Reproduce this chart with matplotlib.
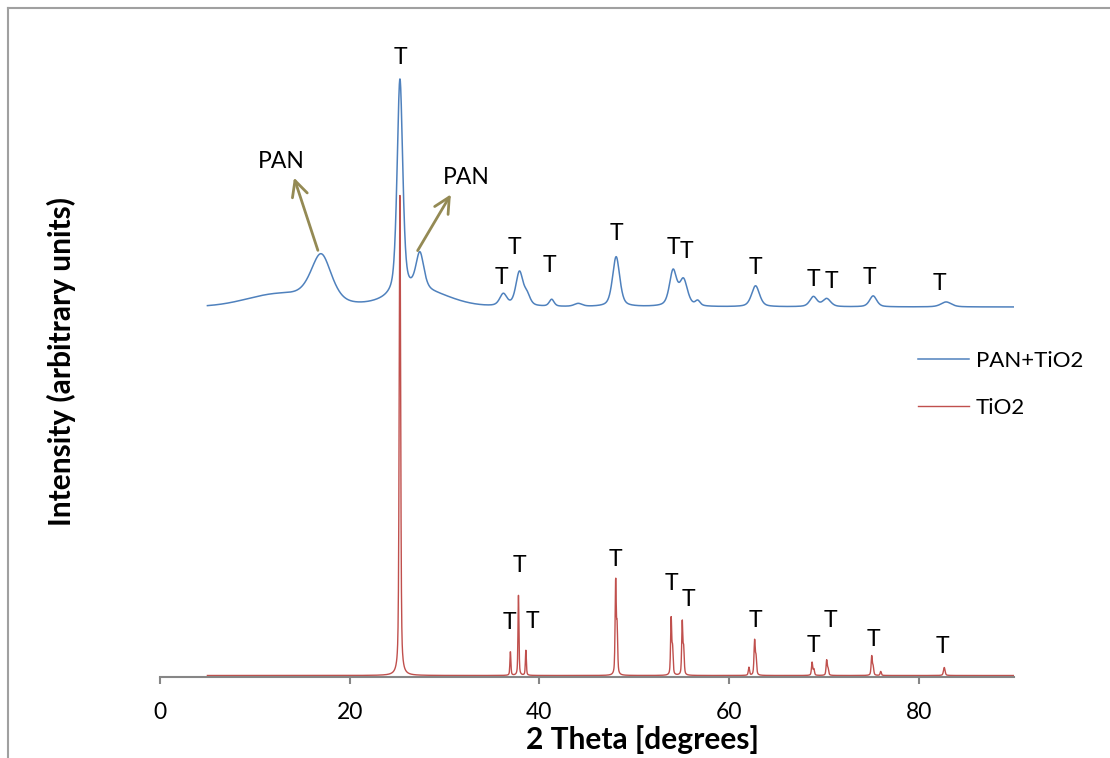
import numpy as np
import matplotlib
matplotlib.use('Agg')
import matplotlib.pyplot as plt
from matplotlib.lines import Line2D

plt.rcParams['font.family'] = ['Lato', 'DejaVu Sans']

# 2 theta range of both scans
theta_start = 5.0
theta_end = 90.0
theta_step = 0.02

# PAN+TiO2 (blue): flat level, broad amorphous humps, then peaks (center, height, fwhm)
pan_level = 3700
pan_hump_pos = [12.5, 27.5]
pan_hump_height = [120, 150]
pan_hump_fwhm = [8.0, 7.0]
pan_peak_pos = [17.0, 25.3, 27.4, 36.2, 37.9, 38.7, 41.3, 44.1, 48.1, 54.1, 55.2,
                56.7, 62.8, 68.9, 70.3, 75.2, 82.9]
pan_peak_height = [480, 2150, 370, 120, 340, 100, 70, 30, 500, 350, 260,
                   50, 210, 100, 80, 110, 50]
pan_peak_fwhm = [2.6, 0.7, 1.0, 0.9, 0.9, 0.8, 0.6, 1.0, 0.9, 0.9, 1.0,
                 0.6, 1.0, 0.9, 1.0, 0.9, 1.3]

# TiO2 (red): sharp anatase reflections incl. the K-alpha2 shoulders
tio2_level = 15
tio2_peak_pos = [25.3, 36.95, 37.8, 38.58, 48.05, 48.2, 53.9, 54.05, 55.07, 55.22,
                 62.1, 62.7, 62.85, 68.76, 68.95, 70.3, 70.45, 75.05, 75.2, 76.0, 82.7]
tio2_peak_height = [4800, 240, 800, 250, 930, 450, 560, 250, 530, 250,
                    80, 340, 170, 130, 60, 150, 60, 190, 80, 40, 80]
tio2_peak_fwhm = [0.18, 0.12, 0.12, 0.12, 0.14, 0.14, 0.14, 0.14, 0.14, 0.14,
                  0.15, 0.15, 0.15, 0.15, 0.15, 0.15, 0.15, 0.15, 0.15, 0.15, 0.2]

# "T" labels (theta, intensity)
pan_t_x = [25.4, 36.0, 37.4, 41.1, 48.1, 54.1, 55.5, 62.75, 68.9, 70.8, 74.8, 82.2]
pan_t_y = [6190, 4000, 4290, 4110, 4440, 4290, 4250, 4090, 3970, 3960, 4000, 3930]
tio2_t_x = [36.8, 37.9, 39.3, 48.0, 53.9, 55.7, 62.75, 68.9, 70.7, 75.2, 82.5]
tio2_t_y = [543, 1113, 550, 1170, 930, 770, 563, 313, 563, 380, 303]

# PAN arrows: (start on curve, text position)
pan_arrow_start = [(16.74, 4240), (27.02, 4240)]
pan_arrow_end = [(14.04, 5020), (30.82, 4850)]
pan_text_pos = [(12.8, 5160), (32.3, 4990)]

BLUE = '#4F81BD'
RED = '#C0504D'
OLIVE = '#948A54'
GREY = '#868686'


def gauss(x, c, h, w):
    return h * np.exp(-4 * np.log(2) * ((x - c) / w) ** 2)


def pvoigt(x, c, h, w, eta=0.5):
    lor = 1.0 / (1.0 + ((x - c) / (w / 2)) ** 2)
    return h * (eta * lor + (1 - eta) * np.exp(-4 * np.log(2) * ((x - c) / w) ** 2))


theta = np.arange(theta_start, theta_end + theta_step / 2, theta_step)

pan = np.full_like(theta, pan_level, dtype=float)
for c, h, w in zip(pan_hump_pos, pan_hump_height, pan_hump_fwhm):
    pan += gauss(theta, c, h, w)
for c, h, w in zip(pan_peak_pos, pan_peak_height, pan_peak_fwhm):
    pan += pvoigt(theta, c, h, w)

tio2 = np.full_like(theta, tio2_level, dtype=float)
for c, h, w in zip(tio2_peak_pos, tio2_peak_height, tio2_peak_fwhm):
    tio2 += pvoigt(theta, c, h, w)

fig = plt.figure(figsize=(11.1, 7.58), dpi=100)
ax = fig.add_axes([160 / 1110, 81 / 758, 853.5 / 1110, 660 / 758])

ax.plot(theta, pan, color=BLUE, lw=1.1, label='PAN+TiO2')
ax.plot(theta, tio2, color=RED, lw=1.0, label='TiO2')

ax.set_xlim(0, 90)
ax.set_ylim(0, 6600)
ax.set_xticks([0, 20, 40, 60, 80])
ax.set_yticks([])
for s in ['left', 'right', 'top']:
    ax.spines[s].set_visible(False)
ax.spines['bottom'].set_color(GREY)
ax.spines['bottom'].set_linewidth(1.5)
ax.tick_params(axis='x', direction='out', length=5, width=1.5, color=GREY,
               labelsize=16.5, pad=13)

for x, y in zip(pan_t_x, pan_t_y):
    ax.text(x, y, 'T', ha='center', va='center', fontsize=16.5)
for x, y in zip(tio2_t_x, tio2_t_y):
    ax.text(x, y, 'T', ha='center', va='center', fontsize=16.5)

for st, en, tp in zip(pan_arrow_start, pan_arrow_end, pan_text_pos):
    ax.annotate('', xy=en, xytext=st,
                arrowprops=dict(arrowstyle='->', color=OLIVE, lw=2, mutation_scale=28))
    ax.text(tp[0], tp[1], 'PAN', ha='center', va='center', fontsize=16.5)

ax.legend(loc='upper left', bbox_to_anchor=(918 / 1110, 1 - 351 / 758),
          bbox_transform=fig.transFigure, frameon=False, fontsize=16,
          handlelength=2.3, handletextpad=0.3, labelspacing=1.2, borderpad=0,
          borderaxespad=0)

fig.text(643 / 1110, 1 - 740 / 758, '2 Theta [degrees]', ha='center', va='center',
         fontsize=21.5, fontweight='bold')
fig.text(61 / 1110, 1 - 361 / 758, 'Intensity (arbitrary units)', ha='center',
         va='center', rotation=90, fontsize=21.5, fontweight='bold')

# chart border (only top and left edges are inside the picture)
fig.add_artist(Line2D([8 / 1110, 8 / 1110], [0, 1 - 8 / 758], color='#A0A0A0', lw=1.5))
fig.add_artist(Line2D([8 / 1110, 1], [1 - 8 / 758, 1 - 8 / 758], color='#A0A0A0', lw=1.5))

fig.savefig('out.png', dpi=100)
